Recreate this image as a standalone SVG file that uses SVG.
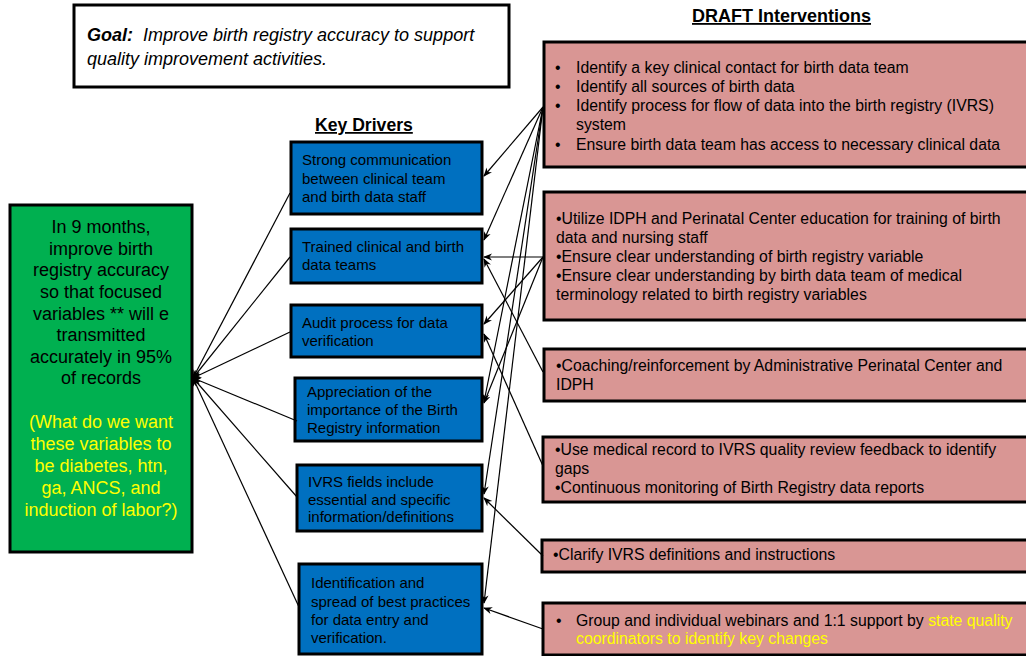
<svg xmlns="http://www.w3.org/2000/svg" width="1026" height="656" viewBox="0 0 1026 656">
<defs>
<style>
.t{font-family:"Liberation Sans",Arial,sans-serif;fill:#000}
.goal{font-size:18px;font-style:italic}
.hd{font-weight:bold;text-decoration:underline}
.gt{font-size:18px;text-anchor:middle}
.y{fill:#FFFF00}
.bt{font-size:15px}
.pt{font-size:15.8px}
.box{stroke:#000;stroke-width:3}
.blue{fill:#0070C0}
.pink{fill:#D99694}
.green{fill:#00B050}
.conn line{stroke:#000;stroke-width:1.2;fill:none}
</style>
<marker id="ah" viewBox="0 0 10 10" refX="9" refY="5" markerWidth="9" markerHeight="9" markerUnits="userSpaceOnUse" orient="auto">
<path d="M0,1 L10,5 L0,9 L3,5 Z" fill="#000"/>
</marker>
</defs>

<g id="goal">
<rect class="box" x="74" y="5" width="435" height="82" fill="#fff"/>
<text class="t goal" x="87" y="41" xml:space="preserve"><tspan font-weight="bold">Goal:</tspan>  Improve birth registry accuracy to support</text>
<text class="t goal" x="87" y="65">quality improvement activities.</text>
</g>

<g id="heading-interventions">
<text class="t hd" x="692" y="22" font-size="18">DRAFT Interventions</text>
</g>
<g id="heading-drivers">
<text class="t hd" x="315" y="131" font-size="17.6">Key Drivers</text>
</g>

<g id="aim">
<rect class="box green" x="10" y="205" width="182" height="347"/>
<text class="t gt" x="101" y="233">In 9 months,</text>
<text class="t gt" x="101" y="255">improve birth</text>
<text class="t gt" x="101" y="276">registry accuracy</text>
<text class="t gt" x="101" y="298">so that focused</text>
<text class="t gt" x="101" y="320">variables ** will e</text>
<text class="t gt" x="101" y="341">transmitted</text>
<text class="t gt" x="101" y="363">accurately in 95%</text>
<text class="t gt" x="101" y="384">of records</text>
<text class="t gt y" x="101" y="428">(What do we want</text>
<text class="t gt y" x="101" y="450">these variables to</text>
<text class="t gt y" x="101" y="472">be diabetes, htn,</text>
<text class="t gt y" x="101" y="494">ga, ANCS, and</text>
<text class="t gt y" x="101" y="516">induction of labor?)</text>
</g>

<g id="driver1">
<rect class="box blue" x="291" y="142" width="191" height="72"/>
<text class="t bt" x="302" y="165">Strong communication</text>
<text class="t bt" x="302" y="184">between clinical team</text>
<text class="t bt" x="302" y="202">and birth data staff</text>
</g>
<g id="driver2">
<rect class="box blue" x="291" y="229" width="191" height="54"/>
<text class="t bt" x="302" y="252">Trained clinical and birth</text>
<text class="t bt" x="302" y="270">data teams</text>
</g>
<g id="driver3">
<rect class="box blue" x="291" y="305" width="191" height="52"/>
<text class="t bt" x="302" y="328">Audit process for data</text>
<text class="t bt" x="302" y="346">verification</text>
</g>
<g id="driver4">
<rect class="box blue" x="295" y="378" width="187" height="63"/>
<text class="t bt" x="307" y="397">Appreciation of the</text>
<text class="t bt" x="307" y="415">importance of the Birth</text>
<text class="t bt" x="307" y="433">Registry information</text>
</g>
<g id="driver5">
<rect class="box blue" x="297" y="465" width="185" height="66"/>
<text class="t bt" x="308" y="487">IVRS fields include</text>
<text class="t bt" x="308" y="505">essential and specific</text>
<text class="t bt" x="308" y="522">information/definitions</text>
</g>
<g id="driver6">
<rect class="box blue" x="299" y="564" width="183" height="90"/>
<text class="t bt" x="311" y="588">Identification and</text>
<text class="t bt" x="311" y="607">spread of best practices</text>
<text class="t bt" x="311" y="625">for data entry and</text>
<text class="t bt" x="311" y="643">verification.</text>
</g>

<g id="intervention1">
<rect class="box pink" x="544" y="42" width="490" height="125"/>
<text class="t pt" x="555" y="73">•</text>
<text class="t pt" x="576" y="73">Identify a key clinical contact for birth data team</text>
<text class="t pt" x="555" y="92">•</text>
<text class="t pt" x="576" y="92">Identify all sources of birth data</text>
<text class="t pt" x="555" y="111">•</text>
<text class="t pt" x="576" y="111">Identify process for flow of data into the birth registry (IVRS)</text>
<text class="t pt" x="576" y="130">system</text>
<text class="t pt" x="555" y="150">•</text>
<text class="t pt" x="576" y="150">Ensure birth data team has access to necessary clinical data</text>
</g>
<g id="intervention2">
<rect class="box pink" x="544" y="192" width="490" height="128"/>
<text class="t pt" x="556" y="224">•Utilize IDPH and Perinatal Center education for training of birth</text>
<text class="t pt" x="556" y="243">data and nursing staff</text>
<text class="t pt" x="556" y="262">•Ensure clear understanding of birth registry variable</text>
<text class="t pt" x="556" y="281">•Ensure clear understanding by birth data team of medical</text>
<text class="t pt" x="556" y="300">terminology related to birth registry variables</text>
</g>
<g id="intervention3">
<rect class="box pink" x="544" y="349" width="490" height="52"/>
<text class="t pt" x="556" y="371">•Coaching/reinforcement by Administrative Perinatal Center and</text>
<text class="t pt" x="556" y="390">IDPH</text>
</g>
<g id="intervention4">
<rect class="box pink" x="543" y="437" width="490" height="65"/>
<text class="t pt" x="555" y="455">•Use medical record to IVRS quality review feedback to identify</text>
<text class="t pt" x="555" y="474">gaps</text>
<text class="t pt" x="555" y="493">•Continuous monitoring of Birth Registry data reports</text>
</g>
<g id="intervention5">
<rect class="box pink" x="542" y="540" width="490" height="32"/>
<text class="t pt" x="553" y="560">•Clarify IVRS definitions and instructions</text>
</g>
<g id="intervention6">
<rect class="box pink" x="543" y="603" width="490" height="52"/>
<text class="t pt" x="556" y="626">•</text>
<text class="t pt" x="576" y="626">Group and individual webinars and 1:1 support by <tspan class="y">state quality</tspan></text>
<text class="t pt y" x="576" y="644">coordinators to identify key changes</text>
</g>

<g id="connectors" class="conn">
<line x1="290" y1="193" x2="193" y2="378" marker-end="url(#ah)"/>
<line x1="290" y1="257" x2="193" y2="378" marker-end="url(#ah)"/>
<line x1="290" y1="332" x2="193" y2="378" marker-end="url(#ah)"/>
<line x1="297" y1="421" x2="193" y2="378" marker-end="url(#ah)"/>
<line x1="297" y1="497" x2="193" y2="378" marker-end="url(#ah)"/>
<line x1="299" y1="607" x2="193" y2="378" marker-end="url(#ah)"/>

<line x1="543" y1="107" x2="484" y2="176" marker-end="url(#ah)"/>
<line x1="543" y1="107" x2="484" y2="240" marker-end="url(#ah)"/>
<line x1="543" y1="107" x2="484" y2="402" marker-end="url(#ah)"/>
<line x1="543" y1="107" x2="484" y2="494" marker-end="url(#ah)"/>
<line x1="543" y1="107" x2="484" y2="603" marker-end="url(#ah)"/>

<line x1="543" y1="257" x2="484" y2="257" marker-end="url(#ah)"/>
<line x1="543" y1="257" x2="484" y2="324" marker-end="url(#ah)"/>
<line x1="543" y1="257" x2="484" y2="403" marker-end="url(#ah)"/>

<line x1="543" y1="372" x2="484" y2="259" marker-end="url(#ah)"/>
<line x1="543" y1="466" x2="484" y2="334" marker-end="url(#ah)"/>
<line x1="543" y1="556" x2="484" y2="498" marker-end="url(#ah)"/>
<line x1="543" y1="629" x2="484" y2="608" marker-end="url(#ah)"/>
</g>
</svg>
